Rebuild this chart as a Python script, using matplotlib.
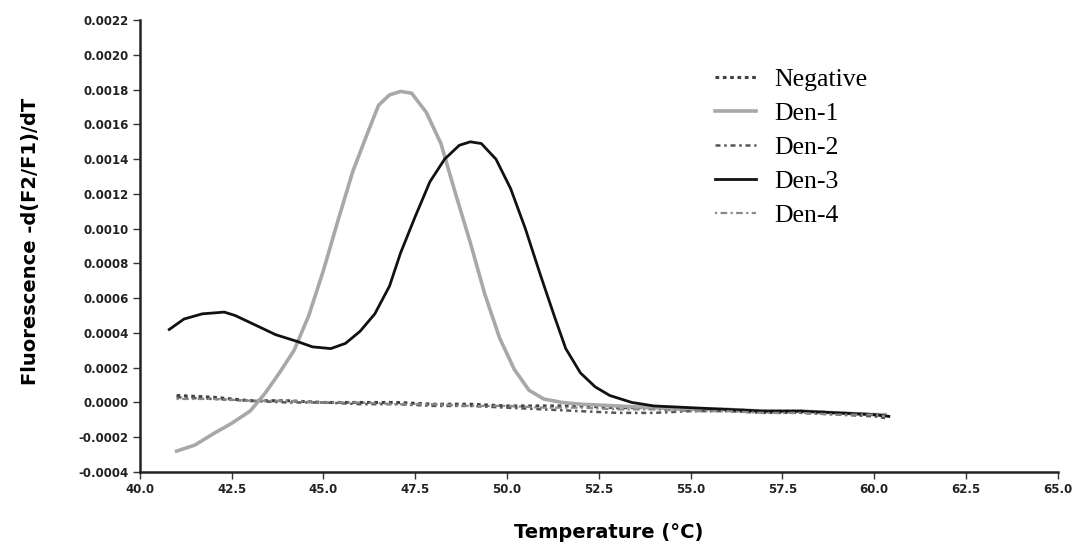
import numpy as np
import matplotlib
matplotlib.use("Agg")
import matplotlib.pyplot as plt

# melt curve data
temp_den1 = [41.0, 41.5, 42.0, 42.5, 43.0, 43.4, 43.8, 44.2, 44.6, 45.0, 45.4, 45.8,
             46.2, 46.5, 46.8, 47.1, 47.4, 47.8, 48.2, 48.6, 49.0, 49.4, 49.8, 50.2,
             50.6, 51.0, 51.5, 52.0, 53.0, 54.0, 55.0, 56.0, 57.0, 58.0, 59.0, 60.0, 60.3]
den1 = [-0.00028, -0.000245, -0.00018, -0.00012, -0.00005, 0.00005, 0.00017, 0.0003,
        0.0005, 0.00076, 0.00105, 0.00133, 0.00155, 0.00171, 0.00177, 0.00179,
        0.00178, 0.00167, 0.00149, 0.0012, 0.00092, 0.00062, 0.00037, 0.00019,
        0.00007, 0.00002, 0.0, -0.00001, -0.00002, -0.00003, -0.00004, -0.00004,
        -0.00005, -0.00005, -0.00006, -0.00007, -0.00007]

temp_den3 = [40.8, 41.2, 41.7, 42.3, 42.6, 43.1, 43.7, 44.3, 44.7, 45.2, 45.6, 46.0,
             46.4, 46.8, 47.1, 47.5, 47.9, 48.3, 48.7, 49.0, 49.3, 49.7, 50.1, 50.5,
             50.9, 51.3, 51.6, 52.0, 52.4, 52.8, 53.4, 54.0, 55.0, 56.0, 57.0, 58.0,
             59.0, 60.0, 60.4]
den3 = [0.00042, 0.00048, 0.00051, 0.00052, 0.0005, 0.00045, 0.00039, 0.00035,
        0.00032, 0.00031, 0.00034, 0.00041, 0.00051, 0.00067, 0.00086, 0.00107,
        0.00127, 0.0014, 0.00148, 0.0015, 0.00149, 0.0014, 0.00123, 0.001, 0.00074,
        0.00049, 0.00031, 0.00017, 0.00009, 0.00004, 0.0, -0.00002, -0.00003,
        -0.00004, -0.00005, -0.00005, -0.00006, -0.00007, -0.00008]

temp_flat = [41.0, 42.0, 43.0, 44.0, 45.0, 46.0, 47.0, 48.0, 49.0, 50.0, 51.0, 52.0,
             53.0, 54.0, 55.0, 56.0, 57.0, 58.0, 59.0, 60.0, 60.3]
negative = [0.00004, 0.00003, 0.00001, 0.00001, 0.0, 0.0, 0.0, -0.00001, -0.00001,
            -0.00002, -0.00002, -0.00002, -0.00003, -0.00003, -0.00004, -0.00004,
            -0.00005, -0.00005, -0.00006, -0.00007, -0.00008]
den2 = [0.00003, 0.00002, 0.00001, 0.0, 0.0, -0.00001, -0.00001, -0.00002, -0.00002,
        -0.00003, -0.00004, -0.00005, -0.00006, -0.00006, -0.00005, -0.00005,
        -0.00006, -0.00006, -0.00007, -0.00008, -0.00009]
den4 = [0.00002, 0.00002, 0.00001, 0.00001, 0.0, 0.0, -0.00001, -0.00001, -0.00002,
        -0.00002, -0.00003, -0.00003, -0.00004, -0.00004, -0.00005, -0.00005,
        -0.00006, -0.00006, -0.00007, -0.00007, -0.00008]

x_ticks = np.arange(40.0, 65.01, 2.5)
y_ticks = np.arange(-0.0004, 0.00221, 0.0002)

fig = plt.figure(figsize=(10.76, 5.45), dpi=100)
ax = fig.add_axes([0.130, 0.134, 0.853, 0.829])

ax.plot(temp_flat, negative, color='#404040', lw=2.2, ls=(0, (1.2, 1.2)), label='Negative')
ax.plot(temp_den1, den1, color='#a8a8a8', lw=2.6, label='Den-1')
ax.plot(temp_flat, den2, color='#555555', lw=1.8, ls=(0, (2, 1.5, 1, 1.5)), label='Den-2')
ax.plot(temp_den3, den3, color='#111111', lw=2, label='Den-3')
ax.plot(temp_flat, den4, color='#8a8a8a', lw=1.6, ls=(0, (1, 1.5, 3, 1.5)), label='Den-4')

ax.set_xlim(40, 65)
ax.set_ylim(-0.0004, 0.0022)
ax.set_xticks(x_ticks)
ax.set_xticklabels(['%.1f' % t for t in x_ticks])
ax.set_yticks(y_ticks)
ax.set_yticklabels(['%.4f' % v if abs(v) > 1e-9 else '0.0000' for v in y_ticks])

for s in ['top', 'right']:
    ax.spines[s].set_visible(False)
for s in ['left', 'bottom']:
    ax.spines[s].set_linewidth(1.8)
    ax.spines[s].set_color('#222222')

ax.tick_params(axis='both', length=5, width=1, color='#333333', labelsize=8.5,
               labelcolor='#222222', pad=3)
for lbl in ax.get_xticklabels() + ax.get_yticklabels():
    lbl.set_fontweight('bold')
    lbl.set_family('DejaVu Sans')

ax.set_xlabel('Temperature (°C)', fontsize=14, fontweight='bold', family='DejaVu Sans')
ax.set_ylabel('Fluorescence -d(F2/F1)/dT', fontsize=14, fontweight='bold',
              family='DejaVu Sans')
ax.xaxis.set_label_coords(0.511, -0.113)
ax.xaxis.label.set_va('top')
ax.yaxis.set_label_coords(-0.109, 0.511)

leg = ax.legend(loc='upper left', bbox_to_anchor=(702 / 1076, 1 - 55 / 545),
                bbox_transform=fig.transFigure, frameon=False, borderpad=0,
                prop={'family': 'Liberation Serif', 'size': 18.5},
                handlelength=1.6, handletextpad=0.7, labelspacing=0.43)

fig.savefig('out.png', dpi=100)
